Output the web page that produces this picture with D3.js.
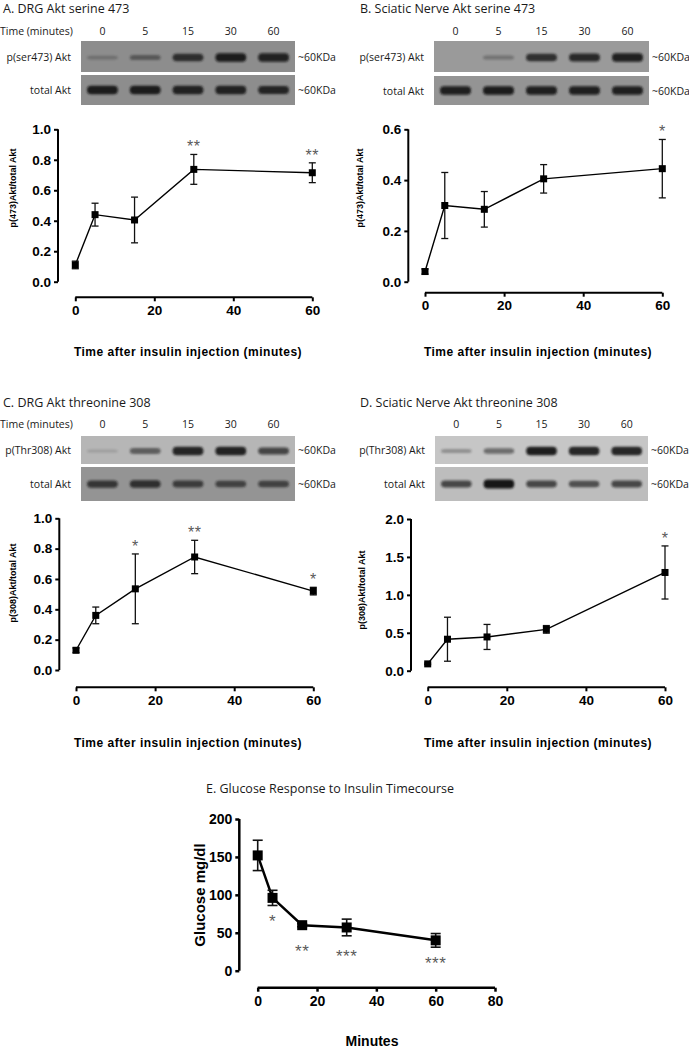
<!DOCTYPE html>
<html>
<head>
<meta charset="utf-8">
<script src="https://cdn.jsdelivr.net/npm/d3@7"></script>
<style>
  html, body { margin: 0; padding: 0; background: #fff; }
  svg { display: block; }
</style>
</head>
<body>
<svg id="fig" width="689" height="1050"></svg>
<script>
// ---------------- DATA ----------------
const times = [0, 5, 15, 30, 60];
const timeLabels = ["0", "5", "15", "30", "60"];

// Panel A: DRG Akt serine 473
const aMean = [0.11, 0.44, 0.405, 0.737, 0.715];
const aErr  = [0.025, 0.075, 0.15, 0.098, 0.065];
const aStars = ["", "", "", "**", "**"];
const aBandP = [0.25, 0.45, 0.8, 0.95, 0.9];
const aBandT = [0.95, 0.95, 0.9, 0.9, 0.88];

// Panel B: Sciatic Nerve Akt serine 473
const bMean = [0.04, 0.30, 0.285, 0.405, 0.445];
const bErr  = [0.01, 0.13, 0.07, 0.056, 0.115];
const bStars = ["", "", "", "", "*"];
const bBandP = [0.0, 0.3, 0.8, 0.85, 0.92];
const bBandT = [0.92, 0.95, 0.92, 0.92, 0.92];

// Panel C: DRG Akt threonine 308
const cMean = [0.13, 0.36, 0.535, 0.745, 0.52];
const cErr  = [0.015, 0.055, 0.23, 0.11, 0.025];
const cStars = ["", "", "*", "**", "*"];
const cBandP = [0.15, 0.55, 0.9, 0.92, 0.7];
const cBandT = [0.75, 0.8, 0.7, 0.65, 0.65];

// Panel D: Sciatic Nerve Akt threonine 308
const dMean = [0.09, 0.415, 0.445, 0.545, 1.295];
const dErr  = [0.01, 0.29, 0.165, 0.05, 0.35];
const dStars = ["", "", "", "", "*"];
const dBandP = [0.3, 0.5, 0.95, 0.9, 0.9];
const dBandT = [0.7, 1.0, 0.7, 0.65, 0.7];

// Panel E: Glucose response
const eMean = [152, 96, 60, 57, 40];
const eErr  = [20, 10, 2, 11, 9];
const eStars = ["", "*", "**", "***", "***"];
const eStarPos = [null, 70, 31, 24, 14];

// axis ticks
const ticks01 = [0, 0.2, 0.4, 0.6, 0.8, 1.0];
const ticks06 = [0, 0.2, 0.4, 0.6];
const ticks20 = [0, 0.5, 1.0, 1.5, 2.0];
const ticksE  = [0, 50, 100, 150, 200];
const xTicks60 = [0, 20, 40, 60];
const xTicks80 = [0, 20, 40, 60, 80];

// ---------------- DRAW ----------------
const svg = d3.select("#fig");
const defs = svg.append("defs");
defs.append("filter").attr("id", "blur").attr("x", "-30%").attr("y", "-100%")
  .attr("width", "160%").attr("height", "300%")
  .append("feGaussianBlur").attr("stdDeviation", 1.3);
defs.append("filter").attr("id", "blur2").attr("x", "-10%").attr("y", "-10%")
  .attr("width", "120%").attr("height", "120%")
  .append("feGaussianBlur").attr("stdDeviation", 0.5);

const HFONT = "'Open Sans', 'Noto Sans', sans-serif";
const AFONT = "Arial, 'Liberation Sans', sans-serif";

function blotPanel(o) {
  const g = svg.append("g");
  g.append("text").attr("x", o.titleX).attr("y", o.titleY)
    .attr("font-family", HFONT).attr("font-size", 12.5).attr("fill", "#1a1a1a")
    .text(o.title);
  const lanes = d3.scaleBand().domain(timeLabels).range([o.x0, o.x1]);
  if (o.showTimeTitle) {
    g.append("text").attr("x", 0).attr("y", o.timeY)
      .attr("font-family", HFONT).attr("font-size", 10.5).attr("fill", "#1a1a1a")
      .text("Time (minutes)");
  }
  g.selectAll(".tl").data(timeLabels).join("text")
    .attr("x", d => lanes(d) + lanes.bandwidth() / 2)
    .attr("y", o.timeY).attr("text-anchor", "middle")
    .attr("font-family", HFONT).attr("font-size", 10.5).attr("fill", "#1a1a1a")
    .text(d => d);

  const rows = [
    { y0: o.r1y0, y1: o.r1y1, bg: o.bg1, vals: o.bandP, label: o.pLabel },
    { y0: o.r2y0, y1: o.r2y1, bg: o.bg2, vals: o.bandT, label: "total Akt" }
  ];
  rows.forEach((r, ri) => {
    g.append("rect").attr("x", o.x0).attr("y", r.y0)
      .attr("width", o.x1 - o.x0).attr("height", r.y1 - r.y0)
      .attr("fill", r.bg).attr("filter", "url(#blur2)");
    const cy = (r.y0 + r.y1) / 2 + (ri === 0 ? 1 : 0);
    g.selectAll(".band" + ri).data(r.vals.map((v, i) => ({ v, t: timeLabels[i] })))
      .join("rect")
      .attr("x", d => lanes(d.t) + 6)
      .attr("width", lanes.bandwidth() - 12)
      .attr("y", d => cy - (2 + 7 * d.v) / 2)
      .attr("height", d => 2 + 7 * d.v)
      .attr("rx", 4)
      .attr("fill", "#161616")
      .attr("opacity", d => d.v)
      .attr("filter", "url(#blur)");
    g.append("text").attr("x", o.x0 - 10).attr("y", (r.y0 + r.y1) / 2 + 4)
      .attr("text-anchor", "end")
      .attr("font-family", HFONT).attr("font-size", 10.5).attr("fill", "#1a1a1a")
      .text(r.label);
    g.append("text").attr("x", o.x1 + 3).attr("y", (r.y0 + r.y1) / 2 + 4)
      .attr("font-family", HFONT).attr("font-size", 10.5).attr("fill", "#1a1a1a")
      .text("~60KDa");
  });
}

function chartPanel(o) {
  const g = svg.append("g");
  const y = d3.scaleLinear().domain(o.yDomain).range([o.yBot, o.yTop]);
  const x = d3.scaleLinear().domain(o.xDomain).range([o.xLeft, o.xRight]);
  const fs = o.tickFs || 13.5;
  const sw = o.axisW || 2;

  // y axis
  const yAx = g.append("g").attr("transform", `translate(${o.yAxisX},0)`)
    .call(d3.axisLeft(y).tickValues(o.yTicks).tickSize(4).tickPadding(3)
      .tickFormat(o.yFmt));
  yAx.select(".domain").attr("d", `M0,${o.yBot}V${o.yTop}`).attr("stroke-width", sw).attr("stroke", "#000");
  yAx.selectAll(".tick line").attr("stroke-width", sw).attr("stroke", "#000");
  yAx.selectAll(".tick text").attr("font-family", AFONT).attr("font-weight", "bold")
    .attr("font-size", fs).attr("fill", "#000");

  // x axis
  const xAx = g.append("g").attr("transform", `translate(0,${o.xAxisY})`)
    .call(d3.axisBottom(x).tickValues(o.xTicks).tickSize(4).tickPadding(4)
      .tickFormat(d3.format("d")));
  xAx.select(".domain").attr("d", `M${o.xLeft},0H${o.xRight}`).attr("stroke-width", sw).attr("stroke", "#000");
  xAx.selectAll(".tick line").attr("stroke-width", sw).attr("stroke", "#000");
  xAx.selectAll(".tick text").attr("font-family", AFONT).attr("font-weight", "bold")
    .attr("font-size", fs).attr("fill", "#000");

  const pts = times.map((t, i) => ({ t, m: o.mean[i], e: o.err[i], s: o.stars[i], sp: o.starPos ? o.starPos[i] : null }));
  const lw = o.lineW || 1.4;
  // line
  g.append("path").datum(pts)
    .attr("d", d3.line().x(d => x(d.t)).y(d => y(d.m)))
    .attr("fill", "none").attr("stroke", "#000").attr("stroke-width", lw);
  // error bars
  const cap = o.cap || 3.5;
  const eb = g.selectAll(".eb").data(pts).join("g").attr("stroke", "#111").attr("stroke-width", o.errW || 1.3);
  eb.append("line").attr("x1", d => x(d.t)).attr("x2", d => x(d.t))
    .attr("y1", d => y(d.m - d.e)).attr("y2", d => y(d.m + d.e));
  eb.append("line").attr("x1", d => x(d.t) - cap).attr("x2", d => x(d.t) + cap)
    .attr("y1", d => y(d.m + d.e)).attr("y2", d => y(d.m + d.e));
  eb.append("line").attr("x1", d => x(d.t) - cap).attr("x2", d => x(d.t) + cap)
    .attr("y1", d => y(d.m - d.e)).attr("y2", d => y(d.m - d.e));
  // markers
  const ms = o.marker || 7;
  g.selectAll(".mk").data(pts).join("rect")
    .attr("x", d => x(d.t) - ms / 2).attr("y", d => y(d.m) - ms / 2)
    .attr("width", ms).attr("height", ms).attr("fill", "#000");
  // stars
  const sfs = o.starFs || 16;
  g.selectAll(".st").data(pts.filter(d => d.s)).join("text")
    .attr("x", d => x(d.t))
    .attr("y", d => (d.sp != null ? y(d.sp) : y(d.m + d.e) - 11) + sfs * 0.55)
    .attr("text-anchor", "middle")
    .attr("font-family", AFONT).attr("font-size", sfs).attr("fill", "#5a5a5a")
    .attr("letter-spacing", 0.5)
    .text(d => d.s);

  // y title
  g.append("text")
    .attr("transform", `translate(${o.yTitleX},${o.yTitleY}) rotate(-90)`)
    .attr("text-anchor", "middle")
    .attr("font-family", AFONT).attr("font-weight", "bold")
    .attr("font-size", o.yTitleFs || 9).attr("fill", "#000")
    .text(o.yTitle);
  // x title
  g.append("text").attr("x", o.xTitleX).attr("y", o.xTitleY)
    .attr("text-anchor", "middle")
    .attr("font-family", AFONT).attr("font-weight", "bold")
    .attr("font-size", o.xTitleFs || 12).attr("fill", "#000")
    .attr("letter-spacing", o.xTitleLs != null ? o.xTitleLs : 0.5)
    .text(o.xTitle);
}

const fmt1 = d3.format(".1f");
const xTitleText = "Time after insulin injection (minutes)";

// ---- Panel A ----
blotPanel({ title: "A. DRG Akt serine 473", titleX: 3, titleY: 13, showTimeTitle: true,
  timeY: 35, x0: 81, x1: 295, r1y0: 41, r1y1: 72, r2y0: 75, r2y1: 105,
  bg1: "#8d8d8d", bg2: "#8d8d8d", bandP: aBandP, bandT: aBandT, pLabel: "p(ser473) Akt" });
chartPanel({ mean: aMean, err: aErr, stars: aStars, yDomain: [0, 1], yTicks: ticks01, yFmt: fmt1,
  yAxisX: 58, yTop: 129.3, yBot: 281.7, xDomain: [0, 60], xTicks: xTicks60,
  xAxisY: 297.3, xLeft: 75.3, xRight: 312.3,
  yTitle: "p(473)Akt/total Akt", yTitleX: 16, yTitleY: 188,
  xTitle: xTitleText, xTitleX: 188, xTitleY: 356 });

// ---- Panel B ----
blotPanel({ title: "B. Sciatic Nerve Akt serine 473", titleX: 360, titleY: 13, showTimeTitle: false,
  timeY: 35, x0: 434, x1: 649, r1y0: 41, r1y1: 72, r2y0: 76, r2y1: 105,
  bg1: "#9a9a9a", bg2: "#949494", bandP: bBandP, bandT: bBandT, pLabel: "p(ser473) Akt" });
chartPanel({ mean: bMean, err: bErr, stars: bStars, yDomain: [0, 0.6], yTicks: ticks06, yFmt: fmt1,
  yAxisX: 408.3, yTop: 129.3, yBot: 281.7, xDomain: [0, 60], xTicks: xTicks60,
  xAxisY: 292.7, xLeft: 425, xRight: 662.3,
  yTitle: "p(473)Akt/total Akt", yTitleX: 363, yTitleY: 188,
  xTitle: xTitleText, xTitleX: 538, xTitleY: 356 });

// ---- Panel C ----
blotPanel({ title: "C. DRG Akt threonine 308", titleX: 3, titleY: 407, showTimeTitle: true,
  timeY: 428, x0: 81, x1: 295, r1y0: 436, r1y1: 464, r2y0: 467, r2y1: 501,
  bg1: "#b6b6b6", bg2: "#949494", bandP: cBandP, bandT: cBandT, pLabel: "p(Thr308) Akt" });
chartPanel({ mean: cMean, err: cErr, stars: cStars, yDomain: [0, 1], yTicks: ticks01, yFmt: fmt1,
  yAxisX: 59.3, yTop: 518.3, yBot: 670, xDomain: [0, 60], xTicks: xTicks60,
  xAxisY: 687.3, xLeft: 76, xRight: 313.3,
  yTitle: "p(308)Akt/total Akt", yTitleX: 16, yTitleY: 583,
  xTitle: xTitleText, xTitleX: 188, xTitleY: 747 });

// ---- Panel D ----
blotPanel({ title: "D. Sciatic Nerve Akt threonine 308", titleX: 360, titleY: 407, showTimeTitle: false,
  timeY: 428, x0: 435, x1: 648, r1y0: 436, r1y1: 464, r2y0: 467, r2y1: 501,
  bg1: "#c6c6c6", bg2: "#bdbdbd", bandP: dBandP, bandT: dBandT, pLabel: "p(Thr308) Akt" });
chartPanel({ mean: dMean, err: dErr, stars: dStars, yDomain: [0, 2], yTicks: ticks20, yFmt: fmt1,
  yAxisX: 411, yTop: 519, yBot: 670.7, xDomain: [0, 60], xTicks: xTicks60,
  xAxisY: 687.3, xLeft: 427.7, xRight: 665,
  yTitle: "p(308)Akt/total Akt", yTitleX: 365, yTitleY: 590,
  xTitle: xTitleText, xTitleX: 538, xTitleY: 747 });

// ---- Panel E ----
svg.append("text").attr("x", 206).attr("y", 793)
  .attr("font-family", HFONT).attr("font-size", 12.5).attr("fill", "#1a1a1a")
  .text("E. Glucose Response to Insulin Timecourse");
chartPanel({ mean: eMean, err: eErr, stars: eStars, starPos: eStarPos,
  yDomain: [0, 200], yTicks: ticksE, yFmt: d3.format("d"),
  yAxisX: 239.3, yTop: 819, yBot: 970.7, xDomain: [0, 80], xTicks: xTicks80,
  xAxisY: 987.7, xLeft: 257.7, xRight: 495,
  tickFs: 14, axisW: 2.5, lineW: 2.5, errW: 1.6, marker: 10, cap: 5, starFs: 17,
  yTitle: "Glucose mg/dl", yTitleX: 205, yTitleY: 895, yTitleFs: 15,
  xTitle: "Minutes", xTitleX: 372, xTitleY: 1046, xTitleFs: 14, xTitleLs: 0 });
</script>
</body>
</html>
